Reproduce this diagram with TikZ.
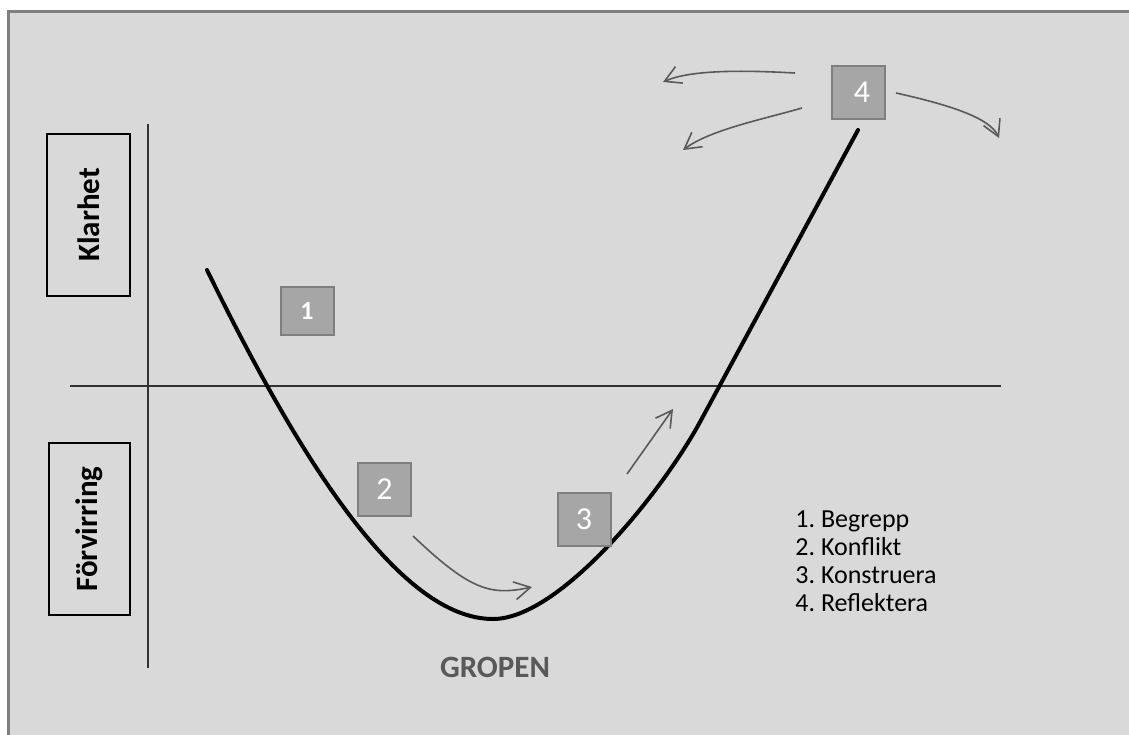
\documentclass[tikz,border=0pt]{standalone}
\usepackage{fontspec}
\setmainfont{Carlito}
\frenchspacing
\definecolor{framegray}{RGB}{127,127,127}
\definecolor{panelgray}{RGB}{217,217,217}
\definecolor{boxgray}{RGB}{166,166,166}
\definecolor{arrowgray}{RGB}{89,89,89}
\definecolor{axisgray}{RGB}{50,50,50}
\usetikzlibrary{arrows.meta,positioning,calc}

\begin{document}
\begin{tikzpicture}[x=0.5pt,y=-0.5pt,
    numbox/.style={draw=framegray, line width=1pt, fill=boxgray, text=white,
          minimum width=26.5pt, minimum height=26.5pt, inner sep=0pt, font=\fontsize{16}{19}\selectfont},
    sidebox/.style={draw=black, line width=0.7pt, rotate=90, inner sep=0pt,
          font=\fontsize{15.5}{18}\selectfont\bfseries},
    legend/.style={anchor=base west, inner sep=0pt, font=\fontsize{13}{15}\selectfont},
    flow/.style={draw=arrowgray, line width=0.8pt, -{Straight Barb[length=8pt,width=9pt]}}]
    \clip (0,0) rectangle (1129,734);
    \useasboundingbox (0,0) rectangle (1129,734);
    \fill[white] (0,0) rectangle (1129,734);
    \draw[framegray, line width=1.5pt, fill=panelgray] (8,11) rectangle (1160,760);

    \draw[axisgray, line width=0.7pt] (148,124) -- (148,668);
    \draw[axisgray, line width=0.7pt] (70,386) -- (1001,386);

    \node[sidebox, minimum width=81pt, minimum height=41.5pt] (klar) at (88.5,215) {Klarhet};
    \node[sidebox, minimum width=86pt, minimum height=40.5pt] (forv) at (89.5,529) {Förvirring};

    \draw[line width=2pt, line cap=round] (207,270) .. controls (300,460) and (400,619) .. (493,619)
          .. controls (560,619) and (662,492) .. (700,422) -- (858,130);

    \node[numbox, minimum height=24pt, font=\fontsize{13}{15}\selectfont\bfseries] (b1) at (307,311) {1};
    \node[numbox] (b2) at (384.5,489.5) {2};
    \node[numbox] (b3) at (584,519) {3};
    \node[numbox] (b4) at (858,92) {\hspace{4pt}4};

    \coordinate (s2) at (413,536);
    \coordinate (e2) at (532,587);
    \coordinate (s3) at (627,474);
    \coordinate (e3) at (673,409);
    \coordinate (s4a) at (795,73);
    \coordinate (e4a) at (663,82);
    \coordinate (s4b) at (802,108);
    \coordinate (e4b) at (683,150);
    \coordinate (s4c) at (896,93);
    \coordinate (e4c) at (999,138);
    \draw[flow] (s2) .. controls (470,590) and (490,596) .. (e2);
    \draw[flow] (s3) -- (e3);
    \draw[flow] (s4a) .. controls (740,70) and (690,70) .. (e4a);
    \draw[flow] (s4b) .. controls (760,120) and (710,130) .. (e4b);
    \draw[flow] (s4c) .. controls (950,105) and (990,118) .. (e4c);

    \node[legend] (l1) at (795,527) {1. Begrepp};
    \node[legend] (l2) at (795,555) {2. Konflikt};
    \node[legend] (l3) at (795,583) {3. Konstruera};
    \node[legend] (l4) at (795,611) {4. Reflektera};

    \node[font=\fontsize{15.5}{18}\selectfont\bfseries, text=arrowgray] (gropen) at (495,667) {GROPEN};
\end{tikzpicture}
\end{document}
